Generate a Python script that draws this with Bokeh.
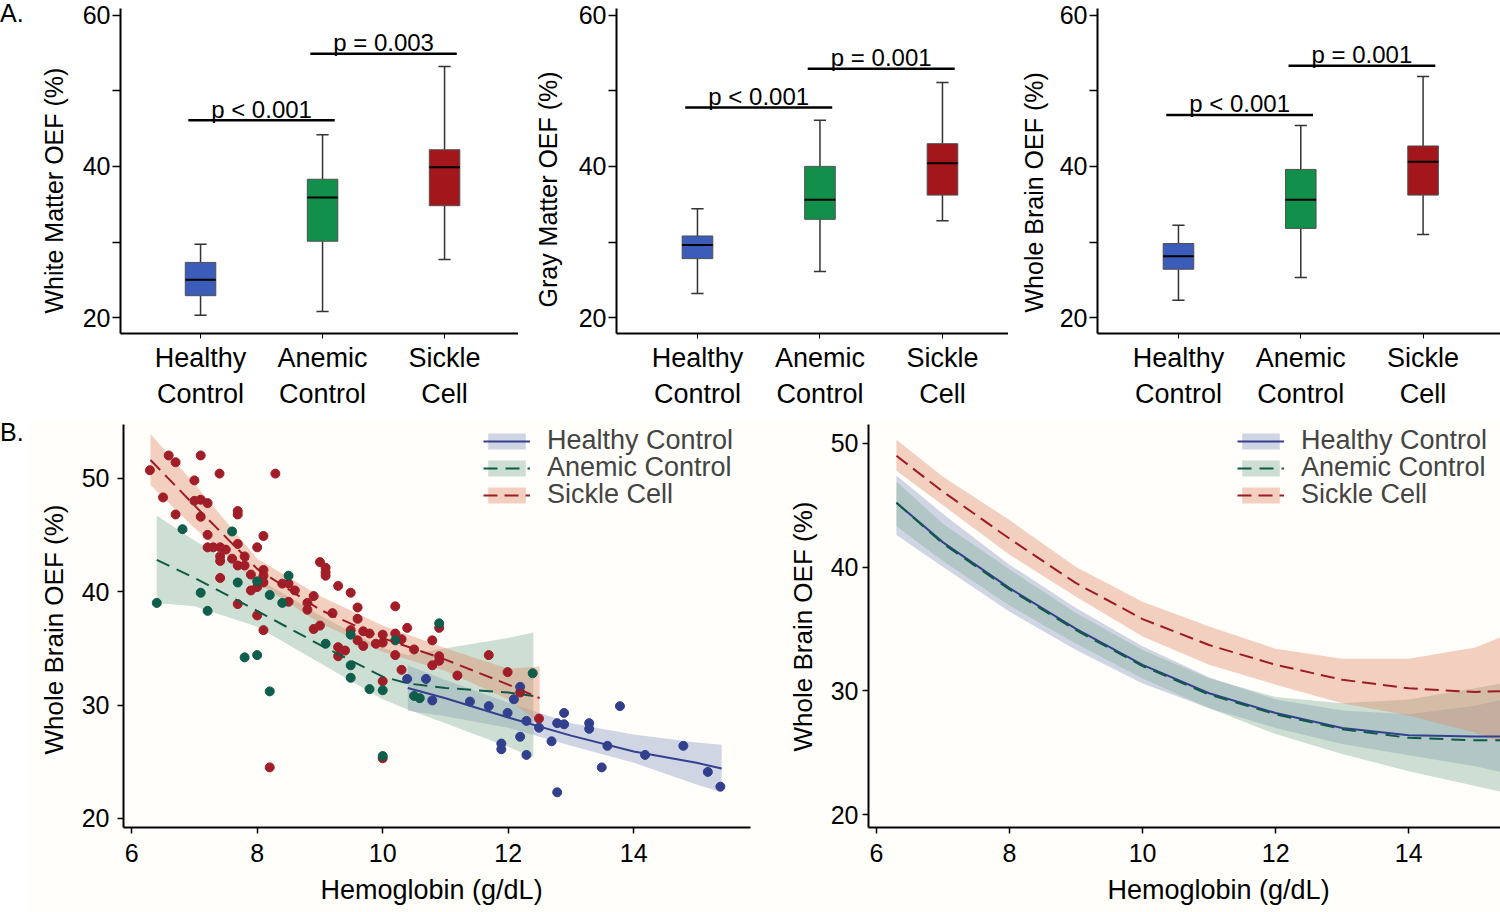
from bokeh.plotting import figure
from bokeh.layouts import column, row
from bokeh.models import FixedTicker, Legend, LegendItem, Range1d, Title, Div
from bokeh.embed import file_html
from bokeh.resources import INLINE
from bokeh.core.properties import value

FONT = "Liberation Sans"

# ---------------- Panel A data (box plots) ----------------
groups = ["Healthy Control", "Anemic Control", "Sickle Cell"]
group_pos = [1, 2, 3]
group_tick_labels = {1: "Healthy\nControl", 2: "Anemic\nControl", 3: "Sickle\nCell"}
box_colors = ["#3b5cb8", "#128f4b", "#a3161c"]

wm_lo = [20.3, 20.8, 27.7]
wm_q1 = [22.9, 30.1, 34.8]
wm_med = [25.0, 35.9, 39.9]
wm_q3 = [27.3, 38.3, 42.2]
wm_hi = [29.7, 44.2, 53.2]

gm_lo = [23.2, 26.1, 32.8]
gm_q1 = [27.8, 33.0, 36.2]
gm_med = [29.6, 35.6, 40.4]
gm_q3 = [30.8, 40.0, 43.0]
gm_hi = [34.4, 46.1, 51.1]

wb_lo = [22.3, 25.3, 31.0]
wb_q1 = [26.4, 31.8, 36.2]
wb_med = [28.1, 35.6, 40.6]
wb_q3 = [29.8, 39.6, 42.7]
wb_hi = [32.2, 45.4, 51.9]

p_text_wm = ["p < 0.001", "p = 0.003"]
p_y_wm = [46.1, 54.9]
p_text_gm = ["p < 0.001", "p = 0.001"]
p_y_gm = [47.8, 52.9]
p_text_wb = ["p < 0.001", "p = 0.001"]
p_y_wb = [46.8, 53.3]
p_x0 = [0.9, 1.9]
p_x1 = [2.1, 3.1]

# ---------------- Panel B data (scatter + fits) ----------------
sc_hb = [6.29, 6.59, 6.70, 7.10, 7.40, 8.29, 6.50, 7.00, 7.00, 7.10, 7.21, 6.70, 7.10, 7.69, 7.69,
         7.21, 8.10, 7.21, 7.30, 7.41, 7.50, 7.69, 8.00, 7.41, 7.41, 7.60, 7.69, 7.80, 7.80, 7.90,
         8.10, 8.10, 8.10, 8.00, 7.90, 7.41, 7.69, 8.00, 8.10, 8.40, 8.50, 8.60, 8.50, 8.20,
         9.00, 9.09, 9.09, 9.09, 9.29, 9.49, 8.90, 8.80, 8.80, 9.60, 9.20, 9.60, 10.20, 9.00, 8.90,
         9.49, 9.69, 9.79, 10.00, 9.60, 9.69, 9.89, 10.00, 10.20, 10.30, 10.39, 10.50, 10.79, 9.29,
         9.40, 9.29, 10.20, 10.90, 10.90, 10.79, 10.30, 10.00, 11.19, 10.00, 10.90, 11.69, 11.99,
         12.19, 12.49]
sc_oef = [50.7, 52.0, 51.4, 52.0, 50.4, 50.4, 48.3, 49.8, 48.0, 48.1, 47.8, 46.8, 46.6, 47.1, 46.8,
          45.0, 44.9, 43.9, 43.9, 43.9, 43.7, 44.2, 43.9, 43.1, 42.7, 42.9, 42.3, 43.1, 42.3, 41.5,
          41.9, 41.4, 40.8, 40.4, 40.1, 41.2, 38.9, 37.9, 36.6, 40.7, 40.7, 40.1, 39.1, 24.5,
          42.6, 42.1, 41.7, 41.4, 40.5, 39.9, 39.6, 39.0, 38.4, 38.6, 38.1, 37.6, 38.7, 37.0, 36.7,
          36.6, 36.5, 36.3, 36.2, 35.7, 35.2, 35.4, 35.5, 36.3, 35.8, 36.8, 34.9, 35.7, 35.1,
          34.8, 34.3, 34.4, 36.8, 34.3, 33.5, 33.1, 32.1, 32.6, 25.3, 33.9, 34.4, 32.9,
          31.1, 28.8]

ac_hb = [6.40, 6.81, 7.10, 7.21, 7.60, 7.69, 8.00, 8.20, 8.50, 8.40, 7.80, 8.00, 8.20, 9.49,
         10.20, 10.90, 9.09, 9.49, 9.49, 9.79, 10.00, 10.50, 10.59, 10.00, 12.39]
ac_oef = [39.0, 45.5, 39.9, 38.3, 45.3, 40.8, 40.9, 39.7, 41.4, 39.0, 34.2, 34.4, 31.2, 36.2,
          35.7, 37.2, 35.4, 33.5, 32.4, 31.4, 31.3, 30.8, 30.6, 25.5, 32.8]

hc_hb = [10.39, 10.69, 10.79, 11.39, 11.69, 11.99, 12.19, 12.09, 12.29, 12.49, 12.19, 11.89, 11.89,
         12.29, 12.69, 12.78, 12.89, 12.89, 13.29, 13.29, 13.78, 13.58, 13.49, 12.78, 14.18, 14.79,
         15.18, 15.38]
hc_oef = [32.3, 32.3, 30.4, 30.3, 29.9, 29.3, 31.6, 30.5, 28.6, 28.0, 27.2, 26.6, 26.1,
          25.6, 26.8, 28.4, 29.3, 28.3, 28.4, 27.9, 29.9, 26.4, 24.5, 22.3, 25.6, 26.4,
          24.1, 22.8]

# local (loess) fits, left panel
sc_fit_hb = [6.3, 7, 8, 9, 10, 11, 12, 12.5]
sc_fit = [51.6, 47.6, 42.0, 38.4, 35.9, 34.0, 31.8, 30.6]
sc_fit_lo = [49.4, 45.6, 40.8, 37.2, 34.7, 33.0, 30.5, 28.4]
sc_fit_hi = [53.9, 49.5, 42.9, 39.6, 37.0, 35.0, 33.2, 33.4]

ac_fit_hb = [6.4, 7, 8, 9, 10, 10.4, 11, 12, 12.4]
ac_fit = [42.8, 41.2, 38.3, 35.3, 32.5, 31.9, 31.5, 31.1, 30.8]
ac_fit_lo = [39.0, 38.7, 36.9, 33.7, 30.5, 29.6, 28.4, 26.3, 25.4]
ac_fit_hi = [46.7, 44.5, 41.2, 37.9, 35.0, 34.4, 35.0, 35.9, 36.4]

hc_fit_hb = [10.4, 11, 12, 13, 14, 15, 15.4]
hc_fit = [31.5, 30.6, 28.9, 27.3, 25.9, 24.9, 24.4]
hc_fit_lo = [29.5, 29.0, 28.0, 26.4, 24.9, 23.0, 22.3]
hc_fit_hi = [33.5, 32.2, 30.2, 28.4, 27.4, 26.7, 26.5]

# model fits, right panel
m_hb = [6.3, 7, 8, 9, 10, 11, 12, 13, 14, 15, 15.5]
m_hc = [45.2, 42.0, 38.3, 35.0, 32.1, 29.8, 28.2, 27.0, 26.4, 26.3, 26.3]
m_hc_lo = [42.6, 40.0, 36.4, 33.3, 30.6, 28.6, 27.0, 25.7, 24.8, 23.9, 23.3]
m_hc_hi = [47.4, 44.3, 40.2, 36.7, 33.6, 31.1, 29.3, 28.4, 28.1, 28.8, 29.4]
m_ac = [45.2, 41.9, 38.2, 34.9, 32.0, 29.7, 28.1, 26.9, 26.2, 26.0, 26.0]
m_ac_lo = [43.3, 40.5, 36.9, 33.8, 31.0, 28.6, 26.5, 24.9, 23.5, 22.3, 21.7]
m_ac_hi = [46.9, 43.5, 39.8, 36.3, 33.3, 31.0, 29.5, 29.0, 29.3, 30.2, 30.7]
m_sc = [49.0, 46.1, 42.3, 38.7, 35.8, 33.7, 32.1, 30.9, 30.2, 29.9, 30.0]
m_sc_lo = [47.8, 45.0, 41.0, 37.6, 34.4, 32.1, 30.5, 29.0, 28.0, 26.6, 25.6]
m_sc_hi = [50.3, 47.3, 43.8, 40.0, 37.2, 35.2, 33.4, 32.6, 32.6, 33.5, 34.6]

HC_PT, AC_PT, SC_PT = "#313f8c", "#0f5d4b", "#a11d28"
HC_LN, AC_LN, SC_LN = "#34408f", "#0e5a47", "#9c1c25"
HC_BAND, AC_BAND, SC_BAND = "#8a98c0", "#82af98", "#e18a66"
BAND_ALPHA = 0.4
BG_B = "#fffefa"


def style_axes(p, tick_font):
    p.outline_line_color = None
    p.xgrid.visible = False
    p.ygrid.visible = False
    for ax in (p.xaxis[0], p.yaxis[0]):
        ax.axis_line_width = 2
        ax.axis_line_color = "black"
        ax.major_tick_line_width = 1.5
        ax.minor_tick_line_width = 1.5
        ax.major_tick_in = 0
        ax.minor_tick_in = 0
        ax.major_label_text_font = FONT
        ax.major_label_text_font_size = tick_font
        ax.major_label_text_color = "black"


def side_title(p, text, side, size, standoff, offset):
    # align="left" anchors the text start at `offset` px from the frame's start edge
    p.add_layout(Title(text=text, align="left", standoff=standoff, offset=offset,
                       text_font=FONT, text_font_size=size, text_font_style="normal",
                       text_color="black"), side)


def letter_div(text, height, line_h):
    return Div(text=f'<div style="font-family:\'{FONT}\';font-size:25px;line-height:{line_h}px;'
                    f'margin:0;padding:0;color:black;">{text}</div>',
               width=25, height=height, margin=(0, 0, 0, 0))


A_H = 420
A_TOP = 8
A_FH = 325
A_Y = (17.9, 60.88)


def box_panel(width, left, fw, xr, ylabel, lab_standoff, lab_offset, lo, q1, med, q3, hi, ptxt, py):
    p = figure(width=width, height=A_H, x_range=Range1d(*xr), y_range=Range1d(*A_Y),
               min_border_left=left, min_border_right=width - left - fw, min_border_top=A_TOP,
               min_border_bottom=A_H - A_TOP - A_FH, output_backend="svg", toolbar_location=None,
               title=None)
    style_axes(p, "25px")
    p.yaxis.ticker = FixedTicker(ticks=[20, 40, 60], minor_ticks=[30, 50])
    p.yaxis.major_tick_out = 8
    p.yaxis.minor_tick_out = 8
    p.yaxis.major_label_standoff = 2
    p.xaxis.ticker = FixedTicker(ticks=group_pos, minor_ticks=[])
    p.xaxis.major_label_overrides = group_tick_labels
    p.xaxis.major_tick_out = 5
    p.xaxis.major_label_standoff = 4
    p.xaxis.major_label_text_font_size = "27px"
    p.xaxis.major_tick_line_width = 1

    cap = 0.05
    p.segment(x0=group_pos, y0=q3, x1=group_pos, y1=hi, line_color="#333333", line_width=1.5)
    p.segment(x0=group_pos, y0=q1, x1=group_pos, y1=lo, line_color="#333333", line_width=1.5)
    p.segment(x0=[g - cap for g in group_pos], y0=hi, x1=[g + cap for g in group_pos], y1=hi,
              line_color="#333333", line_width=1.5)
    p.segment(x0=[g - cap for g in group_pos], y0=lo, x1=[g + cap for g in group_pos], y1=lo,
              line_color="#333333", line_width=1.5)
    p.vbar(x=group_pos, width=0.25, bottom=q1, top=q3, fill_color=box_colors,
           line_color="#505050", line_width=1)
    p.segment(x0=[g - 0.125 for g in group_pos], y0=med, x1=[g + 0.125 for g in group_pos], y1=med,
              line_color="black", line_width=2)

    p.segment(x0=p_x0, y0=py, x1=p_x1, y1=py, line_color="black", line_width=2.5)
    gap = 11 * (A_Y[1] - A_Y[0]) / A_FH  # 11 px above the bar
    p.text(x=[(a + b) / 2 for a, b in zip(p_x0, p_x1)], y=[v + gap for v in py], text=ptxt,
           text_align="center", text_baseline="alphabetic", text_font=value(FONT),
           text_font_size="24px", text_color="black")

    side_title(p, ylabel, "left", "25px", lab_standoff, lab_offset)
    return p


# frames: A1 x 120..518, A2 x 616..1008, A3 x 1097..1500 (page pixels)
pa1 = box_panel(493, 95, 398, (0.344, 3.606), "White Matter OEF (%)", 23, 20,
                wm_lo, wm_q1, wm_med, wm_q3, wm_hi, p_text_wm, p_y_wm)
pa2 = box_panel(490, 98, 392, (0.339, 3.539), "Gray Matter OEF (%)", 27, 26,
                gm_lo, gm_q1, gm_med, gm_q3, gm_hi, p_text_gm, p_y_gm)
pa3 = box_panel(492, 89, 403, (0.338, 3.633), "Whole Brain OEF (%)", 18, 21,
                wb_lo, wb_q1, wb_med, wb_q3, wb_hi, p_text_wb, p_y_wb)

B_H = 492
B_TOP = 4
B_FH = 404


def b_panel(width, left, fw, xr, yr, ytick_standoff, ylab_standoff, ylab_offset, xlab_offset):
    p = figure(width=width, height=B_H, x_range=Range1d(*xr), y_range=Range1d(*yr),
               min_border_left=left, min_border_right=width - left - fw, min_border_top=B_TOP,
               min_border_bottom=B_H - B_TOP - B_FH, output_backend="svg", toolbar_location=None,
               title=None, background_fill_color=BG_B, border_fill_color=BG_B)
    style_axes(p, "25px")
    p.xaxis.ticker = FixedTicker(ticks=[6, 8, 10, 12, 14], minor_ticks=[])
    p.yaxis.ticker = FixedTicker(ticks=[20, 30, 40, 50], minor_ticks=[])
    p.xaxis.major_tick_out = 6
    p.yaxis.major_tick_out = 6
    p.xaxis.major_label_standoff = 10
    p.yaxis.major_label_standoff = ytick_standoff
    side_title(p, "Whole Brain OEF (%)", "left", "26px", ylab_standoff, ylab_offset)
    side_title(p, "Hemoglobin (g/dL)", "below", "27px", 16, xlab_offset)
    return p


pb1 = b_panel(745, 98, 627, (5.87, 15.86), (19.2, 54.73), 8, 20, 73, 197)
b1_hc_band = pb1.varea(x=hc_fit_hb, y1=hc_fit_lo, y2=hc_fit_hi, fill_color=HC_BAND, fill_alpha=BAND_ALPHA)
b1_ac_band = pb1.varea(x=ac_fit_hb, y1=ac_fit_lo, y2=ac_fit_hi, fill_color=AC_BAND, fill_alpha=BAND_ALPHA)
b1_sc_band = pb1.varea(x=sc_fit_hb, y1=sc_fit_lo, y2=sc_fit_hi, fill_color=SC_BAND, fill_alpha=BAND_ALPHA)
pb1.scatter(sc_hb, sc_oef, marker="circle", size=9, color=SC_PT)
pb1.scatter(ac_hb, ac_oef, marker="circle", size=9, color=AC_PT)
pb1.scatter(hc_hb, hc_oef, marker="circle", size=9, color=HC_PT)
b1_hc_line = pb1.line(hc_fit_hb, hc_fit, line_color=HC_LN, line_width=2)
b1_ac_line = pb1.line(ac_fit_hb, ac_fit, line_color=AC_LN, line_width=2, line_dash="14 8")
b1_sc_line = pb1.line(sc_fit_hb, sc_fit, line_color=SC_LN, line_width=2, line_dash="14 7")

pb2 = b_panel(730, 98, 632, (5.88, 15.38), (18.95, 51.53), 4, 19, 76, 239)
b2_hc_band = pb2.varea(x=m_hb, y1=m_hc_lo, y2=m_hc_hi, fill_color=HC_BAND, fill_alpha=BAND_ALPHA)
b2_ac_band = pb2.varea(x=m_hb, y1=m_ac_lo, y2=m_ac_hi, fill_color=AC_BAND, fill_alpha=BAND_ALPHA)
b2_sc_band = pb2.varea(x=m_hb, y1=m_sc_lo, y2=m_sc_hi, fill_color=SC_BAND, fill_alpha=BAND_ALPHA)
b2_hc_line = pb2.line(m_hb, m_hc, line_color=HC_LN, line_width=2)
b2_ac_line = pb2.line(m_hb, m_ac, line_color=AC_LN, line_width=2, line_dash="14 8")
b2_sc_line = pb2.line(m_hb, m_sc, line_color=SC_LN, line_width=2, line_dash="14 7")

ITEM_H = 31                      # height of one legend row in px
ROW_CENTER = [17.5, 44.5, 71.5]  # px below the frame top for each legend row


def add_legend(p, x_px, items):
    for (lab, rs), c in zip(items, ROW_CENTER):
        leg = Legend(items=[LegendItem(label=lab, renderers=rs)],
                     location=(x_px, B_FH - c - ITEM_H / 2), glyph_width=47, glyph_height=20,
                     label_standoff=17, label_text_font=FONT, label_text_font_size="27px",
                     spacing=0, padding=0, margin=0, background_fill_alpha=0,
                     border_line_alpha=0)
        p.add_layout(leg)


add_legend(pb1, 360, [(groups[0], [b1_hc_band, b1_hc_line]),
                      (groups[1], [b1_ac_band, b1_ac_line]),
                      (groups[2], [b1_sc_band, b1_sc_line])])
add_legend(pb2, 369, [(groups[0], [b2_hc_band, b2_hc_line]),
                      (groups[1], [b2_ac_band, b2_ac_line]),
                      (groups[2], [b2_sc_band, b2_sc_line])])

div_a = letter_div("A.", A_H, 26)
div_b = letter_div("B.", B_H, 24)

layout = column(row(div_a, pa1, pa2, pa3, spacing=0), row(div_b, pb1, pb2, spacing=0), spacing=0)
open("out.html", "w").write(file_html(layout, INLINE))
